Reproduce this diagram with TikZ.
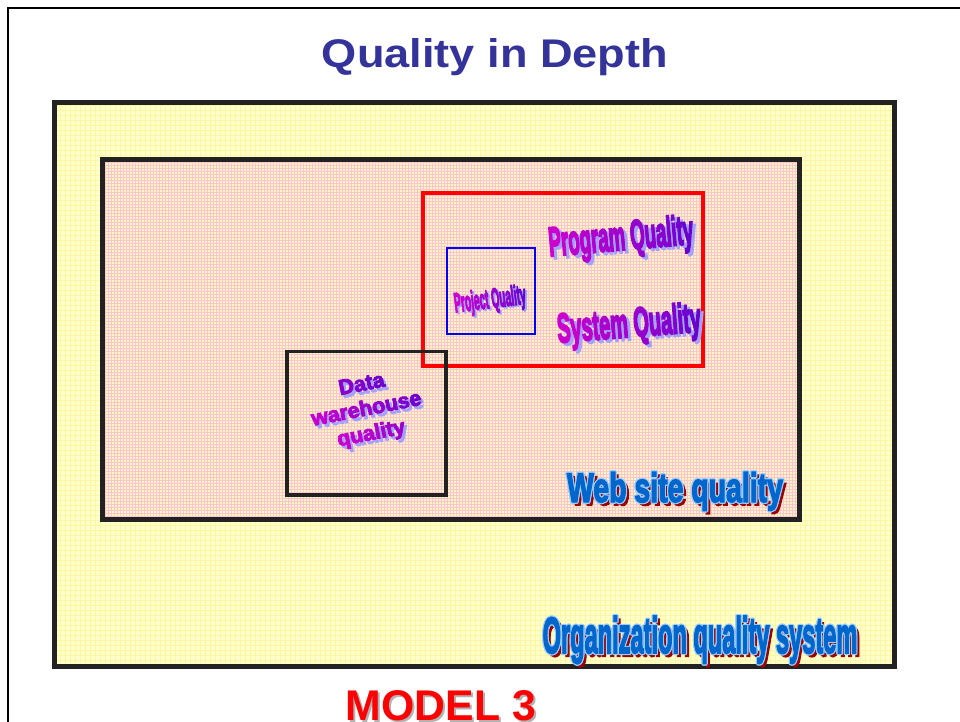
\documentclass[tikz,border=0pt]{standalone}
\usepackage{fontspec}
\setmainfont{Liberation Sans}
\newfontfamily\wafont{Liberation Sans Bold}[FakeBold=3.5]
\newfontfamily\wbfont{Liberation Sans Bold}[FakeBold=5]
\newfontfamily\dwfont{Liberation Sans Bold}[FakeBold=4]
\definecolor{titleblue}{HTML}{333399}
\definecolor{yfill}{HTML}{FFFFCC}
\definecolor{ygrid}{HTML}{FFF7A0}
\definecolor{pfill}{HTML}{FFF4C4}
\definecolor{pgrid}{HTML}{F8C6CC}
\definecolor{boxdark}{HTML}{222222}
\definecolor{wmag}{HTML}{CC00CC}
\definecolor{wviol}{HTML}{6A00CC}
\definecolor{wlav}{HTML}{A3A3FF}
\definecolor{wblue}{HTML}{0066CC}
\definecolor{wlblue}{HTML}{99CCFF}
\definecolor{wred}{HTML}{990000}
% layered copy: dx, dy, colour, content
\newcommand\layer[4]{\rlap{\hspace*{#1}\raisebox{#2}{\color{#3}#4}}}
% gradient letter
\newcommand\gc[2]{{\color{wviol!#1!wmag}#2}}
% purple word art: width, height, shadow offset, plain text, coloured text
\newcommand\purpart[5]{{%
  \layer{#3}{-#3}{wlav}{\resizebox{#1}{#2}{\wbfont #4}}%
  \resizebox{#1}{#2}{\wbfont #5}}}
\newcommand\blueart[3]{{\def\wac{\resizebox{#1}{#2}{\wafont #3}}%
  \layer{2.4pt}{-2.4pt}{wred}{\wac}%
  \layer{0.9pt}{0pt}{wlblue}{\wac}\layer{-0.9pt}{0pt}{wlblue}{\wac}%
  \layer{0pt}{0.9pt}{wlblue}{\wac}\layer{0pt}{-0.9pt}{wlblue}{\wac}%
  \layer{0.65pt}{0.65pt}{wlblue}{\wac}\layer{-0.65pt}{0.65pt}{wlblue}{\wac}%
  \layer{0.65pt}{-0.65pt}{wlblue}{\wac}\layer{-0.65pt}{-0.65pt}{wlblue}{\wac}%
  {\color{wblue}\wac}}}
\newcommand\dwplain{\fontsize{16pt}{18.75pt}\dwfont\begin{tabular}{@{}c@{}}Data\\warehouse\\quality\end{tabular}}
\newcommand\dwcol{\fontsize{16pt}{18.75pt}\dwfont\begin{tabular}{@{}c@{}}%
  \gc{70}{D}\gc{78}{a}\gc{86}{t}\gc{94}{a}\\
  \gc{10}{w}\gc{20}{a}\gc{30}{r}\gc{40}{e}\gc{50}{h}\gc{60}{o}\gc{70}{u}\gc{80}{s}\gc{90}{e}\\
  \gc{5}{q}\gc{12}{u}\gc{19}{a}\gc{26}{l}\gc{33}{i}\gc{40}{t}\gc{47}{y}\end{tabular}}
\begin{document}
\begin{tikzpicture}[x=0.75pt,y=-0.75pt,
  thickbox/.style={draw=boxdark,line width=3.75pt},
  ygridline/.style={draw=ygrid,line width=0.35pt},
  pgridline/.style={draw=pgrid,line width=0.5pt},
  txt/.style={inner sep=0pt,anchor=base}]
\useasboundingbox (0,0) rectangle (960,721);
\begin{scope}
  \clip (0,0) rectangle (960,721);
  \draw[line width=1.5pt] (8.3,8.3) rectangle (990,760);
\end{scope}
% organisation box
\fill[yfill] (54.5,102.5) rectangle (894.5,666);
\begin{scope}
  \clip (54.5,102.5) rectangle (894.5,666);
  \draw[ygridline,step=3.75pt] (40,90) grid (910,680);
\end{scope}
% web site box
\fill[pfill] (102.5,159.5) rectangle (799.5,519);
\begin{scope}
  \clip (102.5,159.5) rectangle (799.5,519);
  \draw[pgridline,step=2.25pt] (90,150) grid (810,530);
\end{scope}
\draw[thickbox] (54.5,102.5) rectangle (894.5,666);
\draw[thickbox] (102.5,159.5) rectangle (799.5,519);
% program box
\draw[red,line width=2.6pt] (423,193) rectangle (703,366);
% project box
\draw[blue,line width=1.5pt] (447,248) rectangle (535,334);
% data warehouse box
\draw[boxdark,line width=2.6pt] (287,351.5) rectangle (446,495);
% texts
\node[txt] (title) at (495,67) {\color{titleblue}\resizebox{259.5pt}{21.75pt}{\bfseries Quality in Depth}};
\node[txt] (model) at (441,720) {{\def\wac{\resizebox{142.5pt}{22.5pt}{\bfseries MODEL 3}}\layer{1.5pt}{-1.5pt}{black!30}{\wac}{\color{red}\wac}}};
\node[txt,rotate=5] (prog) at (622,250) {\purpart{108.75pt}{22.5pt}{2.2pt}{Program Quality}%
  {\gc{0}{P}\gc{7}{r}\gc{14}{o}\gc{21}{g}\gc{28}{r}\gc{35}{a}\gc{42}{m} \gc{56}{Q}\gc{63}{u}\gc{70}{a}\gc{77}{l}\gc{84}{i}\gc{91}{t}\gc{100}{y}}};
\node[txt,rotate=4.5] (sys) at (630,337) {\purpart{108pt}{22.5pt}{2.2pt}{System Quality}%
  {\gc{0}{S}\gc{8}{y}\gc{16}{s}\gc{24}{t}\gc{32}{e}\gc{40}{m} \gc{54}{Q}\gc{62}{u}\gc{70}{a}\gc{78}{l}\gc{86}{i}\gc{93}{t}\gc{100}{y}}};
\node[txt,rotate=7] (proj) at (491,308) {\purpart{54pt}{15pt}{1.3pt}{Project Quality}%
  {\gc{0}{P}\gc{7}{r}\gc{14}{o}\gc{21}{j}\gc{28}{e}\gc{35}{c}\gc{42}{t} \gc{56}{Q}\gc{63}{u}\gc{70}{a}\gc{77}{l}\gc{84}{i}\gc{91}{t}\gc{100}{y}}};
\node[inner sep=0pt,rotate=11] (dw) at (367,412) {\layer{1.6pt}{-2.6pt}{wlav}{\dwplain}\dwcol};
\node[txt] (web) at (675,502) {\blueart{162pt}{22.5pt}{Web site quality}};
\node[txt] (org) at (700,653) {\blueart{236pt}{27.75pt}{Organization quality system}};
\end{tikzpicture}
\end{document}
